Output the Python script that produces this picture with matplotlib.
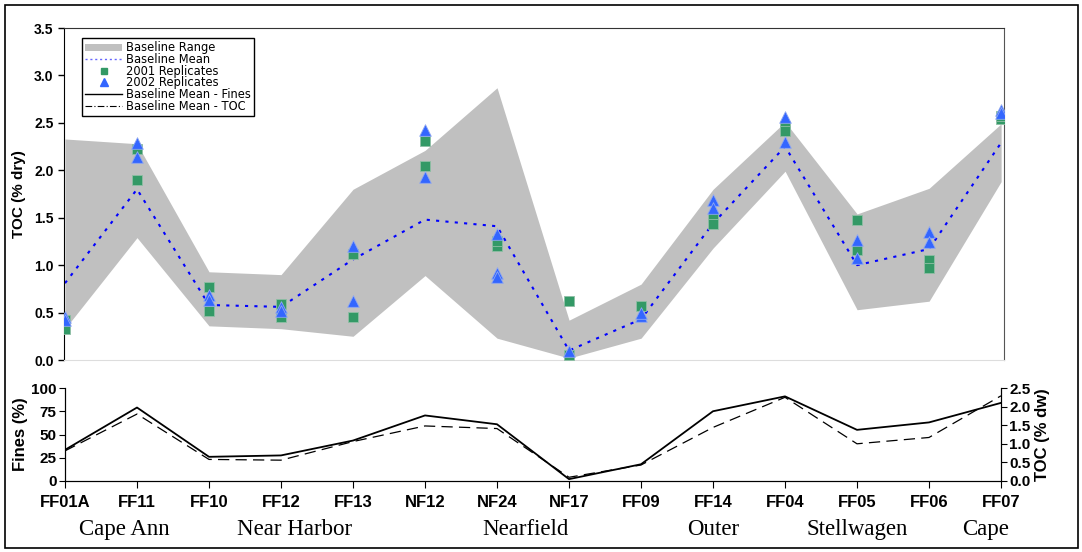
import numpy as np
import matplotlib.pyplot as plt
from matplotlib.patches import Rectangle, Patch
from matplotlib.lines import Line2D

plt.rcParams['font.family'] = ['Liberation Sans', 'DejaVu Sans']

stations = ["FF01A", "FF11", "FF10", "FF12", "FF13", "NF12", "NF24",
            "NF17", "FF09", "FF14", "FF04", "FF05", "FF06", "FF07"]
regions = ["Cape Ann", "Near Harbor", "Nearfield", "Outer", "Stellwagen", "Cape"]
region_pos = [0.83, 3.19, 6.39, 9.0, 11.0, 12.78]

base_upper = [2.33, 2.28, 0.93, 0.90, 1.80, 2.21, 2.87, 0.42, 0.80, 1.80, 2.51, 1.54, 1.81, 2.49]
base_lower = [0.33, 1.29, 0.36, 0.33, 0.25, 0.89, 0.23, 0.02, 0.23, 1.18, 1.99, 0.53, 0.62, 1.88]
base_mean = [0.81, 1.80, 0.58, 0.56, 1.06, 1.48, 1.41, 0.10, 0.43, 1.44, 2.25, 1.00, 1.17, 2.29]
fines_mean = [33.5, 79, 26, 27.5, 43.5, 70.5, 61, 2, 18, 75, 91, 55, 63, 84]

# replicates: (station index, value)
rep2001_idx = [0, 0, 1, 1, 2, 2, 3, 3, 4, 4, 5, 5, 6, 6, 7, 7, 8, 9, 9, 10, 10, 11, 11, 12, 12, 13, 13]
rep2001_val = [0.33, 0.42, 2.22, 1.90, 0.77, 0.52, 0.59, 0.45, 1.12, 0.45, 2.31, 2.04, 1.20, 1.25,
               0.62, 0.05, 0.57, 1.51, 1.43, 2.47, 2.41, 1.48, 1.16, 1.05, 0.97, 2.54, 2.57]
rep2002_idx = [0, 0, 1, 1, 2, 2, 3, 3, 4, 4, 5, 5, 6, 6, 6, 7, 8, 8, 9, 9, 10, 10, 11, 11, 12, 12, 13, 13]
rep2002_val = [0.45, 0.42, 2.29, 2.14, 0.68, 0.63, 0.56, 0.52, 1.20, 0.62, 2.42, 1.93, 1.33, 0.92, 0.88,
               0.09, 0.46, 0.50, 1.69, 1.60, 2.56, 2.30, 1.26, 1.08, 1.35, 1.24, 2.64, 2.60]

x = np.arange(len(stations))
W, H = 1082, 552
fig = plt.figure(figsize=(W / 100, H / 100), dpi=100)
fig.patches.append(Rectangle((5 / W, 4 / H), 1073 / W, 543 / H, transform=fig.transFigure,
                             fill=False, edgecolor='black', linewidth=1.2))

# ---- top panel
ax = fig.add_axes([64 / W, (H - 360) / H, 940 / W, 332 / H])
ax.fill_between(x, base_lower, base_upper, color='#C0C0C0', linewidth=0)
ax.plot(x, base_mean, color='#0000FF', linestyle=(0, (1.5, 3)), linewidth=1.5)
ax.scatter(rep2001_idx, rep2001_val, marker='s', s=55, color='#339966',
           edgecolors='#8FBFA5', linewidths=0.6, zorder=3)
ax.scatter(rep2002_idx, rep2002_val, marker='^', s=70, color='#3366FF',
           edgecolors='#8FA8F0', linewidths=0.6, zorder=4)
ax.set_xlim(-0.014, 13.04)
ax.set_ylim(0, 3.5)
ax.set_yticks(np.arange(0, 3.51, 0.5))
ax.set_yticklabels([f"{v:.1f}" for v in np.arange(0, 3.51, 0.5)], fontweight='bold', fontsize=10)
ax.set_xticks([])
ax.spines['left'].set_color('black')
ax.spines['top'].set_color('#333333')
ax.spines['right'].set_color('#555555')
ax.spines['bottom'].set_color('#DDDDDD')
ax.tick_params(axis='y', length=4, width=1)
ax.set_ylabel("TOC (% dry)", fontweight='bold', fontsize=11, labelpad=6)

handles = [Patch(facecolor='#C0C0C0', edgecolor='none'),
           Line2D([], [], color='#6666FF', linestyle=(0, (1.5, 2)), linewidth=1),
           Line2D([], [], color='#339966', marker='s', linestyle='none', markersize=5),
           Line2D([], [], color='#3366FF', marker='^', linestyle='none', markersize=6),
           Line2D([], [], color='black', linewidth=1),
           Line2D([], [], color='black', linestyle=(0, (6, 2, 1, 2)), linewidth=0.8)]
labels = ["Baseline Range", "Baseline Mean", "2001 Replicates", "2002 Replicates",
          "Baseline Mean - Fines", "Baseline Mean - TOC"]
leg = ax.legend(handles, labels, loc='upper left', bbox_to_anchor=(82 / W, 1 - 38 / H),
                bbox_transform=fig.transFigure, prop={'family': 'DejaVu Sans', 'size': 8.3},
                frameon=True, fancybox=False,
                edgecolor='black', framealpha=1, borderpad=0.3, labelspacing=-0.12,
                handlelength=3.2, handletextpad=0.3, handleheight=0.6, borderaxespad=0)
leg.get_frame().set_linewidth(1)

# ---- bottom panel
ax2 = fig.add_axes([65 / W, (H - 481) / H, 936 / W, 93 / H])
ax2.plot(x, fines_mean, color='black', linewidth=1.3)
ax2.set_xlim(0, 13)
ax2.set_ylim(0, 100)
ax2.set_yticks([0, 25, 50, 75, 100])
ax2.set_yticklabels(["0", "25", "50", "75", "100"], fontweight='bold', fontsize=11)
ax2.set_xticks(x)
ax2.set_xticklabels(stations, fontweight='bold', fontsize=12)
ax2.tick_params(axis='x', direction='out', length=5, pad=5)
ax2.tick_params(axis='y', length=4, pad=2)
ax2.spines['top'].set_visible(False)
ax2.set_ylabel("Fines (%)", fontweight='bold', fontsize=12, labelpad=2)

ax3 = ax2.twinx()
ax3.plot(x, base_mean, color='black', linestyle=(0, (9, 5)), linewidth=0.9)
ax3.set_ylim(0, 2.5)
ax3.set_yticks(np.arange(0, 2.51, 0.5))
ax3.set_yticklabels([f"{v:.1f}" for v in np.arange(0, 2.51, 0.5)], fontweight='bold', fontsize=11)
ax3.tick_params(axis='y', length=4, pad=2)
ax3.spines['top'].set_visible(False)
ax3.set_ylabel("TOC (% dw)", fontweight='bold', fontsize=12, labelpad=3)

for name, pos in zip(regions, region_pos):
    ax2.text(pos, -0.52, name, transform=ax2.get_xaxis_transform(), ha='center', va='center',
             fontsize=16.5, family='Liberation Serif')

fig.savefig("out.png", dpi=100)
